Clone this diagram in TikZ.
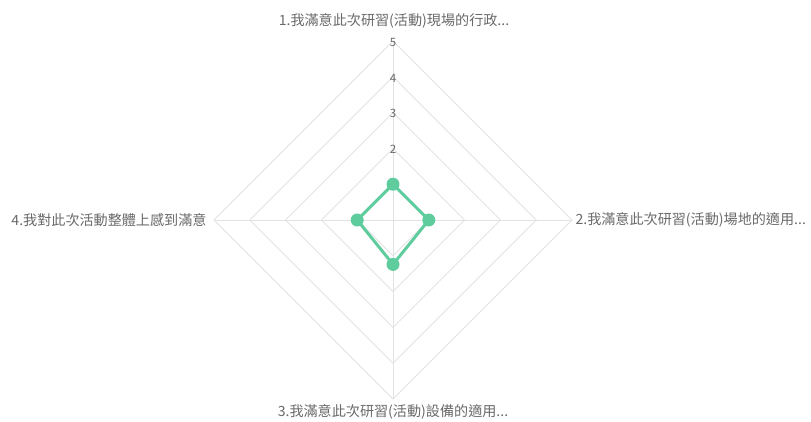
\documentclass[tikz,border=0pt]{standalone}
\usepackage{fontspec}
\setmainfont{Noto Sans CJK TC}
\usetikzlibrary{positioning}
\definecolor{mint}{RGB}{95,204,158}
\definecolor{gridgray}{RGB}{226,226,226}
\definecolor{labelgray}{RGB}{105,105,105}

\begin{document}
\begin{tikzpicture}
[x=1pt, y=-1pt, line width=1pt,
gridline/.style={draw=gridgray, line width=0.9pt},
dot/.style={circle, fill=mint, inner sep=0pt, minimum size=13pt},
axislabel/.style={text=labelgray, font=\fontsize{14.1}{16}\selectfont, inner sep=0pt},
ticklabel/.style={text=labelgray, font=\fontsize{11.5}{13}\selectfont, inner sep=0pt}]

\useasboundingbox (0,0) rectangle (811,421);

\coordinate (c) at (393,220);
\coordinate (a1) at (393,41);
\coordinate (a2) at (572,220);
\coordinate (a3) at (393,399);
\coordinate (a4) at (214,220);

% grid
\draw[gridline] (a1) -- (a2) -- (a3) -- (a4) -- cycle;
\draw[gridline] (393,76.8) -- (536.2,220) -- (393,363.2) -- (249.8,220) -- cycle;
\draw[gridline] (393,112.6) -- (500.4,220) -- (393,327.4) -- (285.6,220) -- cycle;
\draw[gridline] (393,148.4) -- (464.6,220) -- (393,291.6) -- (321.4,220) -- cycle;
\draw[gridline] (393,184.2) -- (428.8,220) -- (393,255.8) -- (357.2,220) -- cycle;
\draw[gridline] (c) -- (a1);
\draw[gridline] (c) -- (a2);
\draw[gridline] (c) -- (a3);
\draw[gridline] (c) -- (a4);

% scale
\node[ticklabel] (t2) at (393,149) {2};
\node[ticklabel] (t3) at (393,113.5) {3};
\node[ticklabel] (t4) at (393,78) {4};
\node[ticklabel] (t5) at (393,42.7) {5};

% data
\node[dot] (d1) at (393,184.2) {};
\node[dot] (d2) at (428.8,220) {};
\node[dot] (d3) at (393,264.4) {};
\node[dot] (d4) at (357.2,220) {};
\draw[mint, line width=3pt, line join=round] (d1.center) -- (d2.center) -- (d3.center) -- (d4.center) -- cycle;

% questions
\node[axislabel] (q1) at (394,21) {1.我滿意此次研習(活動)現場的行政...};
\node[axislabel, right=3pt of a2] (q2) {2.我滿意此次研習(活動)場地的適用...};
\node[axislabel] (q3) at (393,411.5) {3.我滿意此次研習(活動)設備的適用...};
\node[axislabel, left=7pt of a4] (q4) {4.我對此次活動整體上感到滿意};

\end{tikzpicture}
\end{document}
